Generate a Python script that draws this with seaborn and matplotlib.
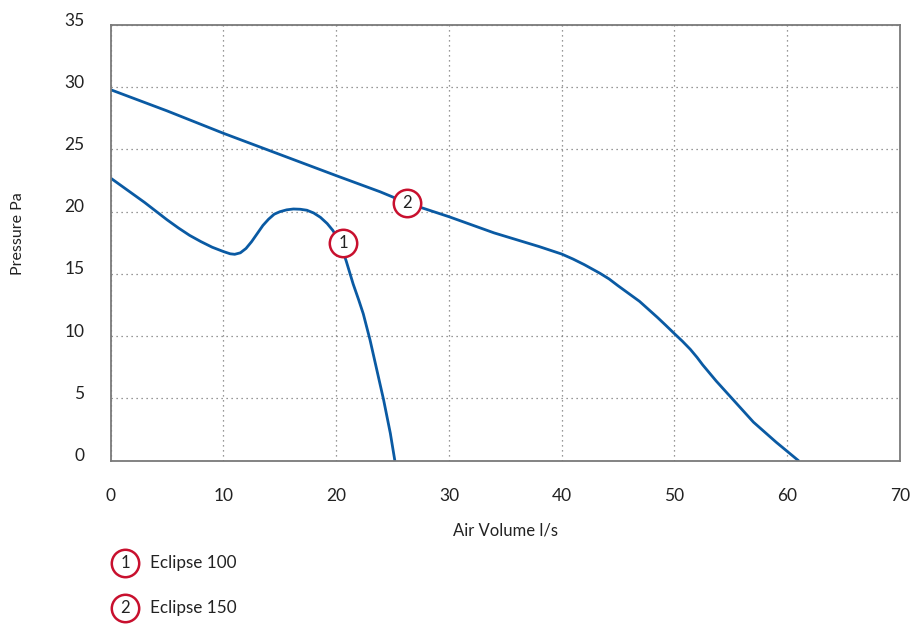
import numpy as np
import pandas as pd
import matplotlib
matplotlib.use("Agg")
import matplotlib.pyplot as plt
import matplotlib.transforms as mtransforms
import seaborn as sns

# Eclipse 100 fan curve
eclipse100_flow = [0, 1, 2, 3, 4, 5, 6, 7, 8, 9, 10, 10.6, 11, 11.5, 12, 12.5, 13, 13.5, 14,
                   14.5, 15, 15.6, 16.2, 16.8, 17.4, 18, 18.6, 19.2, 19.7, 20.1, 20.5, 20.9,
                   21.5, 22.0, 22.4, 23.0, 23.6, 24.2, 24.8, 25.2]
eclipse100_pres = [22.7, 22.05, 21.4, 20.75, 20.05, 19.35, 18.7, 18.1, 17.6, 17.15, 16.8, 16.62,
                   16.58, 16.7, 17.05, 17.6, 18.25, 18.9, 19.4, 19.8, 20.0, 20.15, 20.22, 20.2,
                   20.12, 19.9, 19.55, 19.05, 18.5, 17.9, 17.1, 16.0, 14.2, 12.9, 11.8, 9.7,
                   7.3, 4.9, 2.2, 0]

# Eclipse 150 fan curve
eclipse150_flow = [0, 5, 10, 15, 20, 23.9, 26.3, 30, 34, 36, 38, 40, 41, 42, 43.4, 44.2, 45,
                   46.9, 47.7, 48.5, 49.2, 50, 50.7, 51.4, 52, 52.5, 53.7, 55, 57, 59, 61]
eclipse150_pres = [29.8, 28.1, 26.3, 24.6, 22.9, 21.6, 20.7, 19.6, 18.3, 17.75, 17.2, 16.6,
                   16.2, 15.75, 15.05, 14.6, 14.05, 12.8, 12.15, 11.5, 10.9, 10.2, 9.6, 8.95,
                   8.3, 7.7, 6.4, 5.1, 3.1, 1.5, 0]

# numbered markers on the curves
tag_labels = ["1", "2"]
tag_flow = [20.6, 26.3]
tag_pres = [17.5, 20.7]
legend_names = ["Eclipse 100", "Eclipse 150"]

x_ticks = [0, 10, 20, 30, 40, 50, 60, 70]
y_ticks = [0, 5, 10, 15, 20, 25, 30, 35]

blue = "#0a5aa3"
red = "#c8102e"
grey = "#7a7a7a"
txt = "#222222"

df = pd.concat([
    pd.DataFrame({"flow": eclipse100_flow, "pres": eclipse100_pres, "fan": "Eclipse 100"}),
    pd.DataFrame({"flow": eclipse150_flow, "pres": eclipse150_pres, "fan": "Eclipse 150"}),
])

sns.set_style("white")
plt.rcParams["font.family"] = ["Lato", "DejaVu Sans"]

fig = plt.figure(figsize=(9.12, 6.24), dpi=100)
ax = fig.add_axes([110.7 / 912, 1 - 460.7 / 624, (900 - 110.7) / 912, (460.7 - 25) / 624])

sns.lineplot(data=df, x="flow", y="pres", units="fan", estimator=None, sort=False,
             color=blue, lw=2.0, ax=ax, legend=False)
for ln in ax.lines:
    ln.set_solid_joinstyle("round")

ax.scatter(tag_flow, tag_pres, s=390, facecolor="white", edgecolor=red, lw=1.8, zorder=5)
for lab, fx, fy in zip(tag_labels, tag_flow, tag_pres):
    ax.text(fx, fy, lab, ha="center", va="center", fontsize=12, color=txt, zorder=6)

ax.set_xlim(0, 70)
ax.set_ylim(0, 35)
ax.set_xticks(x_ticks)
ax.set_yticks(y_ticks)
ax.grid(True, color="#777777", linestyle=(0, (1, 3)), lw=0.9)
for s in ax.spines.values():
    s.set_color(grey)
    s.set_linewidth(1.3)
ax.tick_params(axis="both", length=0, labelsize=12.5, labelcolor=txt)
ax.tick_params(axis="y", pad=19)
ax.tick_params(axis="x", pad=20)
off = mtransforms.ScaledTranslation(0, 6 / 100, fig.dpi_scale_trans)
for lbl in ax.get_yticklabels():
    lbl.set_transform(lbl.get_transform() + off)
ax.set_xlabel("")
ax.set_ylabel("")

fig.text(18.3 / 912, 1 - 234 / 624, "Pressure Pa", rotation=90, ha="center", va="center",
         fontsize=11.5, color=txt)
fig.text(506 / 912, 1 - 530 / 624, "Air Volume l/s", ha="center", va="center",
         fontsize=12, color=txt)

# legend below the chart
leg_y = [562.7, 608.3]
for lab, name, py in zip(tag_labels, legend_names, leg_y):
    fx, fy = 125 / 912, 1 - py / 624
    ax.scatter([fx], [fy], s=390, facecolor="white", edgecolor=red, lw=1.8,
               transform=fig.transFigure, clip_on=False, zorder=5)
    ax.text(fx, fy, lab, ha="center", va="center", fontsize=12, color=txt,
            transform=fig.transFigure, zorder=6)
    fig.text(150 / 912, fy, name, ha="left", va="center", fontsize=12.3, color=txt)

ax.set_xlim(0, 70)
ax.set_ylim(0, 35)

fig.savefig("out.png", dpi=100)
